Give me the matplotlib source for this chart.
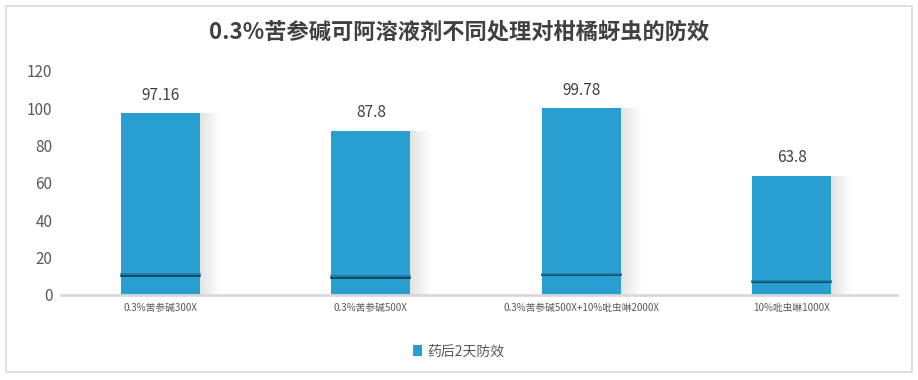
import numpy as np
import matplotlib.pyplot as plt
from matplotlib.patches import Rectangle

plt.rcParams['font.family'] = ['Noto Sans CJK SC', 'DejaVu Sans']

title = '0.3%苦参碱可阿溶液剂不同处理对柑橘蚜虫的防效'
categories = ['0.3%苦参碱300X', '0.3%苦参碱500X', '0.3%苦参碱500X+10%吡虫啉2000X', '10%吡虫啉1000X']
values = [97.16, 87.8, 99.78, 63.8]
value_labels = ['97.16', '87.8', '99.78', '63.8']
series_name = '药后2天防效'
yticks = [0, 20, 40, 60, 80, 100, 120]

bar_color = '#289fd0'
text_color = '#595959'

fig = plt.figure(figsize=(9.18, 3.80), dpi=100)
# outer border
fig.patches.append(Rectangle((0.006, 0.02), 0.988, 0.965, transform=fig.transFigure,
                             fill=False, edgecolor='#d9d9d9', linewidth=1.2))

ax = fig.add_axes([0.06, 0.224, 0.917, 0.59])
x = np.arange(len(categories))
width = 0.375

for xi, v in zip(x, values):
    # soft shadow on the right side of the bar
    n = 14
    for k in range(n):
        a = 0.22 * (1 - k / n)
        ax.add_patch(Rectangle((xi + width / 2 + k * 0.007, 0), 0.007, v,
                               facecolor='#808080', alpha=a, edgecolor='none', zorder=1))

bars = ax.bar(x, values, width=width, color=bar_color, zorder=2)

for xi, v in zip(x, values):
    # dark reflection line near the bottom
    h = v * 0.105
    ax.plot([xi - width / 2, xi + width / 2], [h, h], color='#0b3a4f', linewidth=1.2, zorder=3)
    ax.plot([xi - width / 2, xi + width / 2], [h + 0.9, h + 0.9], color='#1d7aa3', linewidth=1.2, zorder=3)

for xi, v, lab in zip(x, values, value_labels):
    ax.text(xi, v + 5, lab, ha='center', va='bottom', fontsize=11, color='#404040')

ax.set_xlim(-0.5, len(categories) - 0.5)
ax.set_ylim(0, 120)
ax.set_yticks(yticks)
ax.set_xticks(x)
ax.set_xticklabels(categories, fontsize=7, color=text_color)
ax.tick_params(axis='y', labelsize=11, labelcolor=text_color, length=0, pad=2)
ax.tick_params(axis='x', length=0, pad=6)
for s in ['top', 'right', 'left']:
    ax.spines[s].set_visible(False)
ax.spines['bottom'].set_color('#d9d9d9')
ax.spines['bottom'].set_linewidth(2)
ax.spines['bottom'].set_bounds(-0.47, len(categories) - 0.5)

fig.text(0.5, 0.915, title, ha='center', va='center', fontsize=16, fontweight='bold', color='#404040')

leg = fig.legend([bars], [series_name], loc='center', bbox_to_anchor=(0.5, 0.075), frameon=False,
                 fontsize=10, handlelength=0.6, handleheight=0.9, handletextpad=0.4)
for t in leg.get_texts():
    t.set_color(text_color)

fig.savefig('out.png', dpi=100)
